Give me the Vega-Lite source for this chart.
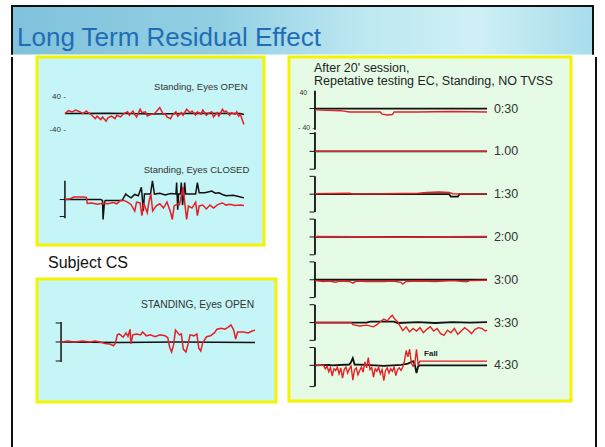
{
  "$schema": "https://vega.github.io/schema/vega-lite/v6.json",
  "background": "white",
  "padding": {"left": 11, "top": 5, "right": 0, "bottom": 0},
  "config": {"view": {"stroke": null}, "font": "Liberation Sans"},
  "datasets": {
    "A": [
      {"k":"open","s":"black","t":0,"v":0},{"k":"open","s":"black","t":25,"v":1},{"k":"open","s":"black","t":50,"v":-1},{"k":"open","s":"black","t":75,"v":1},{"k":"open","s":"black","t":98,"v":0},{"k":"open","s":"black","t":100,"v":-2},
      {"k":"open","s":"red","t":0,"v":0},{"k":"open","s":"red","t":2,"v":7},{"k":"open","s":"red","t":4,"v":4},{"k":"open","s":"red","t":6,"v":8},{"k":"open","s":"red","t":8,"v":5},{"k":"open","s":"red","t":10,"v":0},{"k":"open","s":"red","t":12,"v":6},{"k":"open","s":"red","t":13,"v":2},{"k":"open","s":"red","t":15,"v":-4},{"k":"open","s":"red","t":17,"v":-12},{"k":"open","s":"red","t":18,"v":-6},{"k":"open","s":"red","t":20,"v":-14},{"k":"open","s":"red","t":21,"v":-8},{"k":"open","s":"red","t":23,"v":-18},{"k":"open","s":"red","t":24,"v":-10},{"k":"open","s":"red","t":26,"v":-6},{"k":"open","s":"red","t":28,"v":-12},{"k":"open","s":"red","t":29,"v":-4},{"k":"open","s":"red","t":31,"v":-8},{"k":"open","s":"red","t":33,"v":0},{"k":"open","s":"red","t":35,"v":4},{"k":"open","s":"red","t":36,"v":-4},{"k":"open","s":"red","t":38,"v":6},{"k":"open","s":"red","t":39,"v":-2},{"k":"open","s":"red","t":40,"v":-8},{"k":"open","s":"red","t":42,"v":10},{"k":"open","s":"red","t":43,"v":2},{"k":"open","s":"red","t":45,"v":4},{"k":"open","s":"red","t":46,"v":-6},{"k":"open","s":"red","t":48,"v":-2},{"k":"open","s":"red","t":50,"v":0},{"k":"open","s":"red","t":51,"v":4},{"k":"open","s":"red","t":53,"v":14},{"k":"open","s":"red","t":54,"v":6},{"k":"open","s":"red","t":55,"v":-2},{"k":"open","s":"red","t":56,"v":0},{"k":"open","s":"red","t":57,"v":-8},{"k":"open","s":"red","t":59,"v":-12},{"k":"open","s":"red","t":60,"v":-4},{"k":"open","s":"red","t":62,"v":4},{"k":"open","s":"red","t":63,"v":-6},{"k":"open","s":"red","t":65,"v":2},{"k":"open","s":"red","t":66,"v":-4},{"k":"open","s":"red","t":68,"v":10},{"k":"open","s":"red","t":70,"v":2},{"k":"open","s":"red","t":71,"v":6},{"k":"open","s":"red","t":73,"v":-4},{"k":"open","s":"red","t":74,"v":4},{"k":"open","s":"red","t":76,"v":-2},{"k":"open","s":"red","t":77,"v":8},{"k":"open","s":"red","t":79,"v":-4},{"k":"open","s":"red","t":80,"v":0},{"k":"open","s":"red","t":82,"v":4},{"k":"open","s":"red","t":83,"v":-8},{"k":"open","s":"red","t":85,"v":2},{"k":"open","s":"red","t":86,"v":-6},{"k":"open","s":"red","t":88,"v":10},{"k":"open","s":"red","t":89,"v":4},{"k":"open","s":"red","t":90,"v":6},{"k":"open","s":"red","t":92,"v":-4},{"k":"open","s":"red","t":93,"v":2},{"k":"open","s":"red","t":95,"v":-2},{"k":"open","s":"red","t":96,"v":4},{"k":"open","s":"red","t":97,"v":-6},{"k":"open","s":"red","t":98,"v":-2},{"k":"open","s":"red","t":99,"v":-14},{"k":"open","s":"red","t":100,"v":-26},
      {"k":"closed","s":"axis","t":0,"v":44},{"k":"closed","s":"axis","t":0,"v":-44},
      {"k":"closed","s":"black","t":0,"v":0},{"k":"closed","s":"black","t":20,"v":0},{"k":"closed","s":"black","t":21,"v":-2},{"k":"closed","s":"black","t":21.3,"v":-47},{"k":"closed","s":"black","t":22,"v":-10},{"k":"closed","s":"black","t":22.5,"v":-2},{"k":"closed","s":"black","t":28,"v":-2},{"k":"closed","s":"black","t":32,"v":-2},{"k":"closed","s":"black","t":33,"v":6},{"k":"closed","s":"black","t":34,"v":13},{"k":"closed","s":"black","t":35,"v":9},{"k":"closed","s":"black","t":37,"v":4},{"k":"closed","s":"black","t":39,"v":12},{"k":"closed","s":"black","t":41,"v":9},{"k":"closed","s":"black","t":42.7,"v":29},{"k":"closed","s":"black","t":43.8,"v":-27},{"k":"closed","s":"black","t":44.4,"v":13},{"k":"closed","s":"black","t":47.8,"v":13},{"k":"closed","s":"black","t":48.9,"v":44},{"k":"closed","s":"black","t":50,"v":13},{"k":"closed","s":"black","t":53,"v":15},{"k":"closed","s":"black","t":56,"v":11},{"k":"closed","s":"black","t":59,"v":14},{"k":"closed","s":"black","t":62,"v":13},{"k":"closed","s":"black","t":62.4,"v":40},{"k":"closed","s":"black","t":63,"v":-24},{"k":"closed","s":"black","t":63.5,"v":13},{"k":"closed","s":"black","t":64.5,"v":13},{"k":"closed","s":"black","t":65,"v":40},{"k":"closed","s":"black","t":65.7,"v":-13},{"k":"closed","s":"black","t":66.4,"v":13},{"k":"closed","s":"black","t":66.9,"v":40},{"k":"closed","s":"black","t":67.4,"v":13},{"k":"closed","s":"black","t":70,"v":13},{"k":"closed","s":"black","t":73,"v":13},{"k":"closed","s":"black","t":74,"v":40},{"k":"closed","s":"black","t":75,"v":16},{"k":"closed","s":"black","t":78,"v":16},{"k":"closed","s":"black","t":80,"v":18},{"k":"closed","s":"black","t":82,"v":20},{"k":"closed","s":"black","t":84,"v":15},{"k":"closed","s":"black","t":86,"v":16},{"k":"closed","s":"black","t":88,"v":12},{"k":"closed","s":"black","t":90,"v":9},{"k":"closed","s":"black","t":94,"v":10},{"k":"closed","s":"black","t":97,"v":7},{"k":"closed","s":"black","t":100,"v":4},
      {"k":"closed","s":"red","t":0,"v":0},{"k":"closed","s":"red","t":3,"v":2},{"k":"closed","s":"red","t":5,"v":6},{"k":"closed","s":"red","t":10,"v":6},{"k":"closed","s":"red","t":12,"v":5},{"k":"closed","s":"red","t":12.5,"v":-9},{"k":"closed","s":"red","t":15,"v":-8},{"k":"closed","s":"red","t":18,"v":-11},{"k":"closed","s":"red","t":21,"v":-9},{"k":"closed","s":"red","t":24,"v":-10},{"k":"closed","s":"red","t":27,"v":-7},{"k":"closed","s":"red","t":29,"v":-10},{"k":"closed","s":"red","t":31,"v":-2},{"k":"closed","s":"red","t":33,"v":-2},{"k":"closed","s":"red","t":35,"v":-6},{"k":"closed","s":"red","t":37,"v":-12},{"k":"closed","s":"red","t":39,"v":-27},{"k":"closed","s":"red","t":40,"v":-6},{"k":"closed","s":"red","t":42,"v":-8},{"k":"closed","s":"red","t":43,"v":-38},{"k":"closed","s":"red","t":44,"v":-8},{"k":"closed","s":"red","t":46,"v":-31},{"k":"closed","s":"red","t":47,"v":-4},{"k":"closed","s":"red","t":48,"v":13},{"k":"closed","s":"red","t":49,"v":-27},{"k":"closed","s":"red","t":51,"v":-15},{"k":"closed","s":"red","t":53,"v":-10},{"k":"closed","s":"red","t":55,"v":-20},{"k":"closed","s":"red","t":57,"v":-6},{"k":"closed","s":"red","t":59,"v":-30},{"k":"closed","s":"red","t":60,"v":-47},{"k":"closed","s":"red","t":61,"v":-15},{"k":"closed","s":"red","t":63,"v":-10},{"k":"closed","s":"red","t":64,"v":-12},{"k":"closed","s":"red","t":66,"v":29},{"k":"closed","s":"red","t":67,"v":-10},{"k":"closed","s":"red","t":68,"v":-47},{"k":"closed","s":"red","t":69,"v":-15},{"k":"closed","s":"red","t":71,"v":-20},{"k":"closed","s":"red","t":73,"v":-6},{"k":"closed","s":"red","t":74,"v":-38},{"k":"closed","s":"red","t":75,"v":-15},{"k":"closed","s":"red","t":77,"v":-13},{"k":"closed","s":"red","t":79,"v":-22},{"k":"closed","s":"red","t":81,"v":-13},{"k":"closed","s":"red","t":83,"v":-20},{"k":"closed","s":"red","t":85,"v":-13},{"k":"closed","s":"red","t":87,"v":-9},{"k":"closed","s":"red","t":88,"v":-8},{"k":"closed","s":"red","t":90,"v":-13},{"k":"closed","s":"red","t":92,"v":-11},{"k":"closed","s":"red","t":95,"v":-14},{"k":"closed","s":"red","t":98,"v":-13},{"k":"closed","s":"red","t":100,"v":-14}
    ],
    "Aticks": [
      {"k":"closed","t":-1.5,"v":0},{"k":"closed","t":-1.5,"v":-40}
    ],
    "Alabels": [
      {"k":"open","t":102,"v":62,"label":"Standing, Eyes OPEN","role":"head"},
      {"k":"closed","t":103,"v":69,"label":"Standing, Eyes CLOSED","role":"head"},
      {"k":"open","t":0.5,"v":40,"label":"40 -","role":"tick"},
      {"k":"open","t":0.5,"v":-38,"label":"-40 -","role":"tick"}
    ],
    "B": [
      {"s":"axis","t":0,"v":42},{"s":"axis","t":0,"v":-42},
      {"s":"black","t":0,"v":0},{"s":"black","t":30,"v":-1},{"s":"black","t":60,"v":0},{"s":"black","t":100,"v":-1},
      {"s":"red","t":0,"v":0},{"s":"red","t":3.6,"v":2},{"s":"red","t":7,"v":0},{"s":"red","t":11,"v":2},{"s":"red","t":15,"v":0},{"s":"red","t":17.5,"v":2},{"s":"red","t":20,"v":0},{"s":"red","t":22.7,"v":-3},{"s":"red","t":25,"v":-4},{"s":"red","t":27,"v":-8},{"s":"red","t":28,"v":-3},{"s":"red","t":29,"v":15},{"s":"red","t":30,"v":17},{"s":"red","t":32,"v":10},{"s":"red","t":33.5,"v":19},{"s":"red","t":34.5,"v":12},{"s":"red","t":35.6,"v":27},{"s":"red","t":36,"v":-4},{"s":"red","t":37,"v":15},{"s":"red","t":39,"v":17},{"s":"red","t":41,"v":15},{"s":"red","t":42,"v":21},{"s":"red","t":44,"v":13},{"s":"red","t":46,"v":15},{"s":"red","t":48.5,"v":11},{"s":"red","t":51,"v":15},{"s":"red","t":53.6,"v":13},{"s":"red","t":55,"v":9},{"s":"red","t":56,"v":-11},{"s":"red","t":57,"v":-21},{"s":"red","t":58,"v":-6},{"s":"red","t":59,"v":25},{"s":"red","t":61,"v":15},{"s":"red","t":62,"v":17},{"s":"red","t":63,"v":-15},{"s":"red","t":64.4,"v":-21},{"s":"red","t":65.5,"v":-4},{"s":"red","t":66.5,"v":15},{"s":"red","t":68.5,"v":13},{"s":"red","t":70,"v":17},{"s":"red","t":71,"v":-13},{"s":"red","t":72,"v":-19},{"s":"red","t":73,"v":-2},{"s":"red","t":75,"v":11},{"s":"red","t":77,"v":13},{"s":"red","t":79,"v":19},{"s":"red","t":80.4,"v":27},{"s":"red","t":82.5,"v":29},{"s":"red","t":84.5,"v":27},{"s":"red","t":86,"v":31},{"s":"red","t":87.6,"v":36},{"s":"red","t":89,"v":25},{"s":"red","t":90,"v":6},{"s":"red","t":91,"v":21},{"s":"red","t":94,"v":21},{"s":"red","t":96.4,"v":19},{"s":"red","t":98.5,"v":23},{"s":"red","t":100,"v":25}
    ],
    "Bticks": [
      {"t":-1.5,"v":40},{"t":-1.5,"v":0},{"t":-1.5,"v":-40}
    ],
    "Blabels": [
      {"t":99.5,"v":78,"label":"STANDING, Eyes OPEN"}
    ],
    "C": [
      {"k":"0:30","s":"axis","t":0,"v":42},{"k":"0:30","s":"axis","t":0,"v":-50},
      {"k":"1.00","s":"axis","t":0,"v":45},{"k":"1.00","s":"axis","t":0,"v":-42},
      {"k":"1:30","s":"axis","t":0,"v":42},{"k":"1:30","s":"axis","t":0,"v":-42},
      {"k":"2:00","s":"axis","t":0,"v":42},{"k":"2:00","s":"axis","t":0,"v":-42},
      {"k":"3:00","s":"axis","t":0,"v":42},{"k":"3:00","s":"axis","t":0,"v":-42},
      {"k":"3:30","s":"axis","t":0,"v":42},{"k":"3:30","s":"axis","t":0,"v":-42},
      {"k":"4:30","s":"axis","t":0,"v":42},{"k":"4:30","s":"axis","t":0,"v":-50},
      {"k":"0:30","s":"black","t":0,"v":0},{"k":"0:30","s":"black","t":100,"v":0},
      {"k":"0:30","s":"red","t":0,"v":-3},{"k":"0:30","s":"red","t":15,"v":-5},{"k":"0:30","s":"red","t":20,"v":-8},{"k":"0:30","s":"red","t":38,"v":-8},{"k":"0:30","s":"red","t":39,"v":-13},{"k":"0:30","s":"red","t":42,"v":-15},{"k":"0:30","s":"red","t":45,"v":-14},{"k":"0:30","s":"red","t":46,"v":-8},{"k":"0:30","s":"red","t":60,"v":-8},{"k":"0:30","s":"red","t":80,"v":-7},{"k":"0:30","s":"red","t":100,"v":-8},
      {"k":"1.00","s":"black","t":0,"v":0},{"k":"1.00","s":"black","t":100,"v":0},
      {"k":"1.00","s":"red","t":0,"v":0},{"k":"1.00","s":"red","t":100,"v":0},
      {"k":"1:30","s":"black","t":0,"v":0},{"k":"1:30","s":"black","t":78,"v":0},{"k":"1:30","s":"black","t":79,"v":-6},{"k":"1:30","s":"black","t":83,"v":-6},{"k":"1:30","s":"black","t":84,"v":0},{"k":"1:30","s":"black","t":100,"v":0},
      {"k":"1:30","s":"red","t":0,"v":1},{"k":"1:30","s":"red","t":20,"v":2},{"k":"1:30","s":"red","t":22,"v":0},{"k":"1:30","s":"red","t":40,"v":1},{"k":"1:30","s":"red","t":60,"v":2},{"k":"1:30","s":"red","t":65,"v":4},{"k":"1:30","s":"red","t":72,"v":5},{"k":"1:30","s":"red","t":78,"v":4},{"k":"1:30","s":"red","t":80,"v":1},{"k":"1:30","s":"red","t":90,"v":0},{"k":"1:30","s":"red","t":100,"v":0},
      {"k":"2:00","s":"black","t":0,"v":0},{"k":"2:00","s":"black","t":100,"v":0},
      {"k":"2:00","s":"red","t":0,"v":1},{"k":"2:00","s":"red","t":50,"v":0},{"k":"2:00","s":"red","t":100,"v":1},
      {"k":"3:00","s":"black","t":0,"v":0},{"k":"3:00","s":"black","t":100,"v":0},
      {"k":"3:00","s":"red","t":0,"v":-2},{"k":"3:00","s":"red","t":5,"v":-4},{"k":"3:00","s":"red","t":8,"v":-3},{"k":"3:00","s":"red","t":12,"v":-6},{"k":"3:00","s":"red","t":14,"v":-3},{"k":"3:00","s":"red","t":20,"v":-4},{"k":"3:00","s":"red","t":22,"v":-8},{"k":"3:00","s":"red","t":24,"v":-3},{"k":"3:00","s":"red","t":30,"v":-4},{"k":"3:00","s":"red","t":40,"v":-4},{"k":"3:00","s":"red","t":45,"v":-3},{"k":"3:00","s":"red","t":50,"v":-6},{"k":"3:00","s":"red","t":51,"v":-10},{"k":"3:00","s":"red","t":53,"v":-4},{"k":"3:00","s":"red","t":60,"v":-3},{"k":"3:00","s":"red","t":70,"v":-4},{"k":"3:00","s":"red","t":80,"v":-2},{"k":"3:00","s":"red","t":88,"v":-5},{"k":"3:00","s":"red","t":90,"v":-2},{"k":"3:00","s":"red","t":100,"v":-1},
      {"k":"3:30","s":"black","t":0,"v":0},{"k":"3:30","s":"black","t":30,"v":0},{"k":"3:30","s":"black","t":32,"v":2},{"k":"3:30","s":"black","t":46,"v":2},{"k":"3:30","s":"black","t":48,"v":-1},{"k":"3:30","s":"black","t":60,"v":1},{"k":"3:30","s":"black","t":70,"v":-1},{"k":"3:30","s":"black","t":80,"v":1},{"k":"3:30","s":"black","t":90,"v":0},{"k":"3:30","s":"black","t":100,"v":1},
      {"k":"3:30","s":"red","t":0,"v":0},{"k":"3:30","s":"red","t":21,"v":0},{"k":"3:30","s":"red","t":22,"v":-5},{"k":"3:30","s":"red","t":26,"v":-8},{"k":"3:30","s":"red","t":30,"v":-6},{"k":"3:30","s":"red","t":34,"v":-10},{"k":"3:30","s":"red","t":36,"v":-5},{"k":"3:30","s":"red","t":38,"v":2},{"k":"3:30","s":"red","t":40,"v":8},{"k":"3:30","s":"red","t":42,"v":4},{"k":"3:30","s":"red","t":44,"v":14},{"k":"3:30","s":"red","t":45,"v":17},{"k":"3:30","s":"red","t":46,"v":10},{"k":"3:30","s":"red","t":48,"v":2},{"k":"3:30","s":"red","t":50,"v":-12},{"k":"3:30","s":"red","t":51,"v":-19},{"k":"3:30","s":"red","t":53,"v":-10},{"k":"3:30","s":"red","t":55,"v":-22},{"k":"3:30","s":"red","t":57,"v":-14},{"k":"3:30","s":"red","t":59,"v":-20},{"k":"3:30","s":"red","t":61,"v":-12},{"k":"3:30","s":"red","t":63,"v":-24},{"k":"3:30","s":"red","t":65,"v":-16},{"k":"3:30","s":"red","t":67,"v":-10},{"k":"3:30","s":"red","t":69,"v":-20},{"k":"3:30","s":"red","t":71,"v":-14},{"k":"3:30","s":"red","t":73,"v":-26},{"k":"3:30","s":"red","t":75,"v":-30},{"k":"3:30","s":"red","t":77,"v":-18},{"k":"3:30","s":"red","t":79,"v":-24},{"k":"3:30","s":"red","t":81,"v":-14},{"k":"3:30","s":"red","t":83,"v":-28},{"k":"3:30","s":"red","t":85,"v":-20},{"k":"3:30","s":"red","t":87,"v":-12},{"k":"3:30","s":"red","t":89,"v":-18},{"k":"3:30","s":"red","t":91,"v":-26},{"k":"3:30","s":"red","t":93,"v":-16},{"k":"3:30","s":"red","t":95,"v":-12},{"k":"3:30","s":"red","t":97,"v":-14},{"k":"3:30","s":"red","t":99,"v":-20},{"k":"3:30","s":"red","t":100,"v":-18},
      {"k":"4:30","s":"black","t":0,"v":0},{"k":"4:30","s":"black","t":8,"v":1},{"k":"4:30","s":"black","t":10,"v":0},{"k":"4:30","s":"black","t":20,"v":2},{"k":"4:30","s":"black","t":21,"v":8},{"k":"4:30","s":"black","t":22,"v":17},{"k":"4:30","s":"black","t":23,"v":2},{"k":"4:30","s":"black","t":30,"v":1},{"k":"4:30","s":"black","t":40,"v":-1},{"k":"4:30","s":"black","t":50,"v":1},{"k":"4:30","s":"black","t":54,"v":4},{"k":"4:30","s":"black","t":56,"v":8},{"k":"4:30","s":"black","t":57,"v":10},{"k":"4:30","s":"black","t":58,"v":2},{"k":"4:30","s":"black","t":59,"v":-18},{"k":"4:30","s":"black","t":60,"v":-2},{"k":"4:30","s":"black","t":61,"v":0},{"k":"4:30","s":"black","t":100,"v":0},
      {"k":"4:30","s":"red","t":0,"v":0},{"k":"4:30","s":"red","t":5,"v":0},{"k":"4:30","s":"red","t":6,"v":-8},{"k":"4:30","s":"red","t":7,"v":-2},{"k":"4:30","s":"red","t":8,"v":-15},{"k":"4:30","s":"red","t":9,"v":-5},{"k":"4:30","s":"red","t":10,"v":-25},{"k":"4:30","s":"red","t":11,"v":-8},{"k":"4:30","s":"red","t":12,"v":-12},{"k":"4:30","s":"red","t":13,"v":-4},{"k":"4:30","s":"red","t":14,"v":-20},{"k":"4:30","s":"red","t":15,"v":-6},{"k":"4:30","s":"red","t":16,"v":-30},{"k":"4:30","s":"red","t":17,"v":-10},{"k":"4:30","s":"red","t":18,"v":-4},{"k":"4:30","s":"red","t":19,"v":-18},{"k":"4:30","s":"red","t":20,"v":-8},{"k":"4:30","s":"red","t":21,"v":-2},{"k":"4:30","s":"red","t":22,"v":-35},{"k":"4:30","s":"red","t":23,"v":-10},{"k":"4:30","s":"red","t":24,"v":-6},{"k":"4:30","s":"red","t":25,"v":-22},{"k":"4:30","s":"red","t":26,"v":-12},{"k":"4:30","s":"red","t":27,"v":-4},{"k":"4:30","s":"red","t":28,"v":-16},{"k":"4:30","s":"red","t":29,"v":8},{"k":"4:30","s":"red","t":30,"v":-6},{"k":"4:30","s":"red","t":31,"v":18},{"k":"4:30","s":"red","t":32,"v":-10},{"k":"4:30","s":"red","t":33,"v":-5},{"k":"4:30","s":"red","t":34,"v":-28},{"k":"4:30","s":"red","t":35,"v":-8},{"k":"4:30","s":"red","t":36,"v":-14},{"k":"4:30","s":"red","t":37,"v":-4},{"k":"4:30","s":"red","t":38,"v":-20},{"k":"4:30","s":"red","t":39,"v":-10},{"k":"4:30","s":"red","t":40,"v":-36},{"k":"4:30","s":"red","t":41,"v":-12},{"k":"4:30","s":"red","t":42,"v":-6},{"k":"4:30","s":"red","t":43,"v":-18},{"k":"4:30","s":"red","t":44,"v":-8},{"k":"4:30","s":"red","t":45,"v":-14},{"k":"4:30","s":"red","t":46,"v":-4},{"k":"4:30","s":"red","t":47,"v":-24},{"k":"4:30","s":"red","t":48,"v":-10},{"k":"4:30","s":"red","t":49,"v":-6},{"k":"4:30","s":"red","t":50,"v":-12},{"k":"4:30","s":"red","t":51,"v":-4},{"k":"4:30","s":"red","t":52,"v":10},{"k":"4:30","s":"red","t":53,"v":35},{"k":"4:30","s":"red","t":54,"v":20},{"k":"4:30","s":"red","t":55,"v":38},{"k":"4:30","s":"red","t":56,"v":5},{"k":"4:30","s":"red","t":57,"v":-2},{"k":"4:30","s":"red","t":58,"v":4},{"k":"4:30","s":"red","t":59,"v":38},{"k":"4:30","s":"red","t":60,"v":0},{"k":"4:30","s":"red","t":61,"v":10},{"k":"4:30","s":"red","t":100,"v":10}
    ],
    "Cticks": [
      {"k":"0:30","t":-1.7,"v":0},
      {"k":"1.00","t":-1.7,"v":42},{"k":"1.00","t":-1.7,"v":0},{"k":"1.00","t":-1.7,"v":-42},
      {"k":"1:30","t":-1.7,"v":42},{"k":"1:30","t":-1.7,"v":0},{"k":"1:30","t":-1.7,"v":-42},
      {"k":"2:00","t":-1.7,"v":42},{"k":"2:00","t":-1.7,"v":0},{"k":"2:00","t":-1.7,"v":-42},
      {"k":"3:00","t":-1.7,"v":42},{"k":"3:00","t":-1.7,"v":0},{"k":"3:00","t":-1.7,"v":-42},
      {"k":"3:30","t":-1.7,"v":42},{"k":"3:30","t":-1.7,"v":0},{"k":"3:30","t":-1.7,"v":-42},
      {"k":"4:30","t":-1.7,"v":42},{"k":"4:30","t":-1.7,"v":0},{"k":"4:30","t":-1.7,"v":-50}
    ],
    "Clabels": [
      {"k":"0:30","t":-4.5,"v":37,"label":"40","role":"tick"},
      {"k":"0:30","t":-0.3,"v":-45,"label":"- 40 -","role":"tick"},
      {"k":"4:30","t":63.4,"v":27,"label":"Fall","role":"note"},
      {"k":"0:30","t":104,"v":0,"label":"0:30","role":"name"},
      {"k":"1.00","t":104,"v":0,"label":"1.00","role":"name"},
      {"k":"1:30","t":104,"v":0,"label":"1:30","role":"name"},
      {"k":"2:00","t":104,"v":0,"label":"2:00","role":"name"},
      {"k":"3:00","t":104,"v":0,"label":"3:00","role":"name"},
      {"k":"3:30","t":104,"v":0,"label":"3:30","role":"name"},
      {"k":"4:30","t":104,"v":0,"label":"4:30","role":"name"}
    ]
  },
  "spacing": 0,
  "vconcat": [
    {"width": 583, "height": 2, "data": {"values": [{}]}, "mark": {"type": "rect", "color": "#111"}, "view": {"fill": "#111", "stroke": null}},
    {
      "spacing": 0,
      "hconcat": [
        {"width": 2, "height": 47.5, "data": {"values": [{}]}, "mark": {"type": "rect", "color": "#111"}, "view": {"fill": "#111", "stroke": null}},
        {
          "width": 579, "height": 47.5,
          "data": {"values": [{}]},
          "title": {"text": "Long Term Residual Effect", "orient": "top", "anchor": "start", "frame": "group", "offset": -65, "baseline": "alphabetic", "dx": 4, "fontSize": 26, "fontWeight": "normal", "font": "Liberation Sans", "color": "#1f6db5"},
          "mark": {"type": "rect", "color": {"gradient": "linear", "x1": 0, "y1": 0, "x2": 1, "y2": 0, "stops": [{"offset": 0, "color": "#80c2dc"}, {"offset": 0.35, "color": "#92cfe3"}, {"offset": 0.6, "color": "#bce7f1"}, {"offset": 0.8, "color": "#cff0f6"}, {"offset": 1, "color": "#a8ddeb"}]}},
          "view": {"stroke": null}
        },
        {"width": 2, "height": 47.5, "data": {"values": [{}]}, "mark": {"type": "rect", "color": "#111"}, "view": {"fill": "#111", "stroke": null}}
      ]
    },
    {
      "spacing": 0,
      "hconcat": [
        {"width": 2, "height": 392.5, "data": {"values": [{}]}, "mark": {"type": "rect", "color": "#111"}, "view": {"fill": "#111", "stroke": null}},
        {"width": 21.5, "height": 10, "data": {"values": [{}]}, "mark": {"type": "rect", "opacity": 0}},
        {
          "spacing": 6,
          "vconcat": [
            {
              "width": 227, "height": 188,
              "view": {"fill": "#c6f5f7", "stroke": "#f4f400", "strokeWidth": 3},
              "encoding": {
                "x": {"field": "t", "type": "quantitative", "scale": {"domain": [-15.6, 111.2], "nice": false, "zero": false}, "axis": null},
                "y": {"field": "k", "type": "nominal", "scale": {"type": "band", "domain": ["open", "closed"], "paddingInner": 0, "paddingOuter": 0.093, "align": 1}, "axis": null},
                "yOffset": {"field": "v", "type": "quantitative", "scale": {"domain": [-95.5, 95.5], "reverse": true, "nice": false, "zero": false}}
              },
              "layer": [
                {"data": {"name": "A"}, "transform": [{"filter": "datum.s !== 'red'"}], "mark": {"type": "line", "color": "#111", "strokeWidth": 1.5}, "encoding": {"detail": [{"field": "k"}, {"field": "s"}], "order": {"field": "t", "type": "quantitative"}}},
                {"data": {"name": "A"}, "transform": [{"filter": "datum.s === 'red'"}], "mark": {"type": "line", "color": "#e41f25", "strokeWidth": 1.5}, "encoding": {"detail": {"field": "k"}, "order": {"field": "t", "type": "quantitative"}}},
                {"data": {"name": "Aticks"}, "mark": {"type": "point", "shape": "stroke", "size": 25, "color": "#111", "strokeWidth": 1, "opacity": 1}},
                {"data": {"name": "Alabels"}, "transform": [{"filter": "datum.role === 'head'"}], "mark": {"type": "text", "align": "right", "baseline": "middle", "fontSize": 9.5, "color": "#333"}, "encoding": {"text": {"field": "label"}}},
                {"data": {"name": "Alabels"}, "transform": [{"filter": "datum.role === 'tick'"}], "mark": {"type": "text", "align": "right", "baseline": "middle", "fontSize": 8, "color": "#333"}, "encoding": {"text": {"field": "label"}}}
              ]
            },
            {
              "width": 239, "height": 123,
              "title": {"text": "Subject CS", "orient": "top", "anchor": "start", "frame": "group", "offset": -5, "baseline": "alphabetic", "dx": 11, "fontSize": 16, "fontWeight": "normal", "font": "Liberation Sans", "color": "#111"},
              "view": {"fill": "#c6f5f7", "stroke": "#f4f400", "strokeWidth": 3},
              "encoding": {
                "x": {"field": "t", "type": "quantitative", "scale": {"domain": [-12.4, 110.8], "nice": false, "zero": false}, "axis": null},
                "y": {"field": "v", "type": "quantitative", "scale": {"domain": [-126.3, 132.6], "nice": false, "zero": false}, "axis": null}
              },
              "layer": [
                {"data": {"name": "B"}, "transform": [{"filter": "datum.s !== 'red'"}], "mark": {"type": "line", "color": "#111", "strokeWidth": 1.5}, "encoding": {"detail": {"field": "s"}, "order": {"field": "t", "type": "quantitative"}}},
                {"data": {"name": "B"}, "transform": [{"filter": "datum.s === 'red'"}], "mark": {"type": "line", "color": "#e41f25", "strokeWidth": 1.5}, "encoding": {"order": {"field": "t", "type": "quantitative"}}},
                {"data": {"name": "Bticks"}, "mark": {"type": "point", "shape": "stroke", "size": 25, "color": "#111", "strokeWidth": 1, "opacity": 1}},
                {"data": {"name": "Blabels"}, "mark": {"type": "text", "align": "right", "baseline": "middle", "fontSize": 10.3, "color": "#333"}, "encoding": {"text": {"field": "label"}}}
              ]
            }
          ]
        },
        {"width": 9, "height": 10, "data": {"values": [{}]}, "mark": {"type": "rect", "opacity": 0}},
        {
          "width": 282, "height": 344,
          "title": {"text": ["After 20' session,", "Repetative testing EC, Standing, NO TVSS"], "orient": "top", "anchor": "start", "frame": "group", "offset": -40.5, "baseline": "alphabetic", "dx": 25, "lineHeight": 13.5, "fontSize": 12.5, "fontWeight": "normal", "font": "Liberation Sans", "color": "#222"},
          "view": {"fill": "#e6fbe6", "stroke": "#f4f400", "strokeWidth": 3},
          "encoding": {
            "x": {"field": "t", "type": "quantitative", "scale": {"domain": [-15.1, 148.8], "nice": false, "zero": false}, "axis": null},
            "y": {"field": "k", "type": "nominal", "scale": {"type": "band", "domain": ["0:30", "1.00", "1:30", "2:00", "3:00", "3:30", "4:30"], "range": [11, 310.6], "paddingInner": 0, "paddingOuter": 0}, "axis": null},
            "yOffset": {"field": "v", "type": "quantitative", "scale": {"domain": [-107, 0], "reverse": true, "nice": false, "zero": false}}
          },
          "layer": [
            {"data": {"name": "C"}, "transform": [{"filter": "datum.s !== 'red'"}], "mark": {"type": "line", "color": "#111", "strokeWidth": 1.8}, "encoding": {"detail": [{"field": "k"}, {"field": "s"}], "order": {"field": "t", "type": "quantitative"}}},
            {"data": {"name": "C"}, "transform": [{"filter": "datum.s === 'red'"}], "mark": {"type": "line", "color": "#e41f25", "strokeWidth": 1.4}, "encoding": {"detail": {"field": "k"}, "order": {"field": "t", "type": "quantitative"}}},
            {"data": {"name": "Cticks"}, "mark": {"type": "point", "shape": "stroke", "size": 25, "color": "#111", "strokeWidth": 1, "opacity": 1}},
            {"data": {"name": "Clabels"}, "transform": [{"filter": "datum.role === 'tick'"}], "mark": {"type": "text", "align": "right", "baseline": "middle", "fontSize": 7, "color": "#333"}, "encoding": {"text": {"field": "label"}}},
            {"data": {"name": "Clabels"}, "transform": [{"filter": "datum.role === 'note'"}], "mark": {"type": "text", "align": "left", "baseline": "middle", "fontSize": 8, "fontWeight": "bold", "color": "#222"}, "encoding": {"text": {"field": "label"}}},
            {"data": {"name": "Clabels"}, "transform": [{"filter": "datum.role === 'name'"}], "mark": {"type": "text", "align": "left", "baseline": "middle", "fontSize": 12.5, "color": "#333"}, "encoding": {"text": {"field": "label"}}}
          ]
        },
        {"width": 21.5, "height": 10, "data": {"values": [{}]}, "mark": {"type": "rect", "opacity": 0}},
        {"width": 2, "height": 392.5, "data": {"values": [{}]}, "mark": {"type": "rect", "color": "#111"}, "view": {"fill": "#111", "stroke": null}}
      ]
    }
  ]
}
